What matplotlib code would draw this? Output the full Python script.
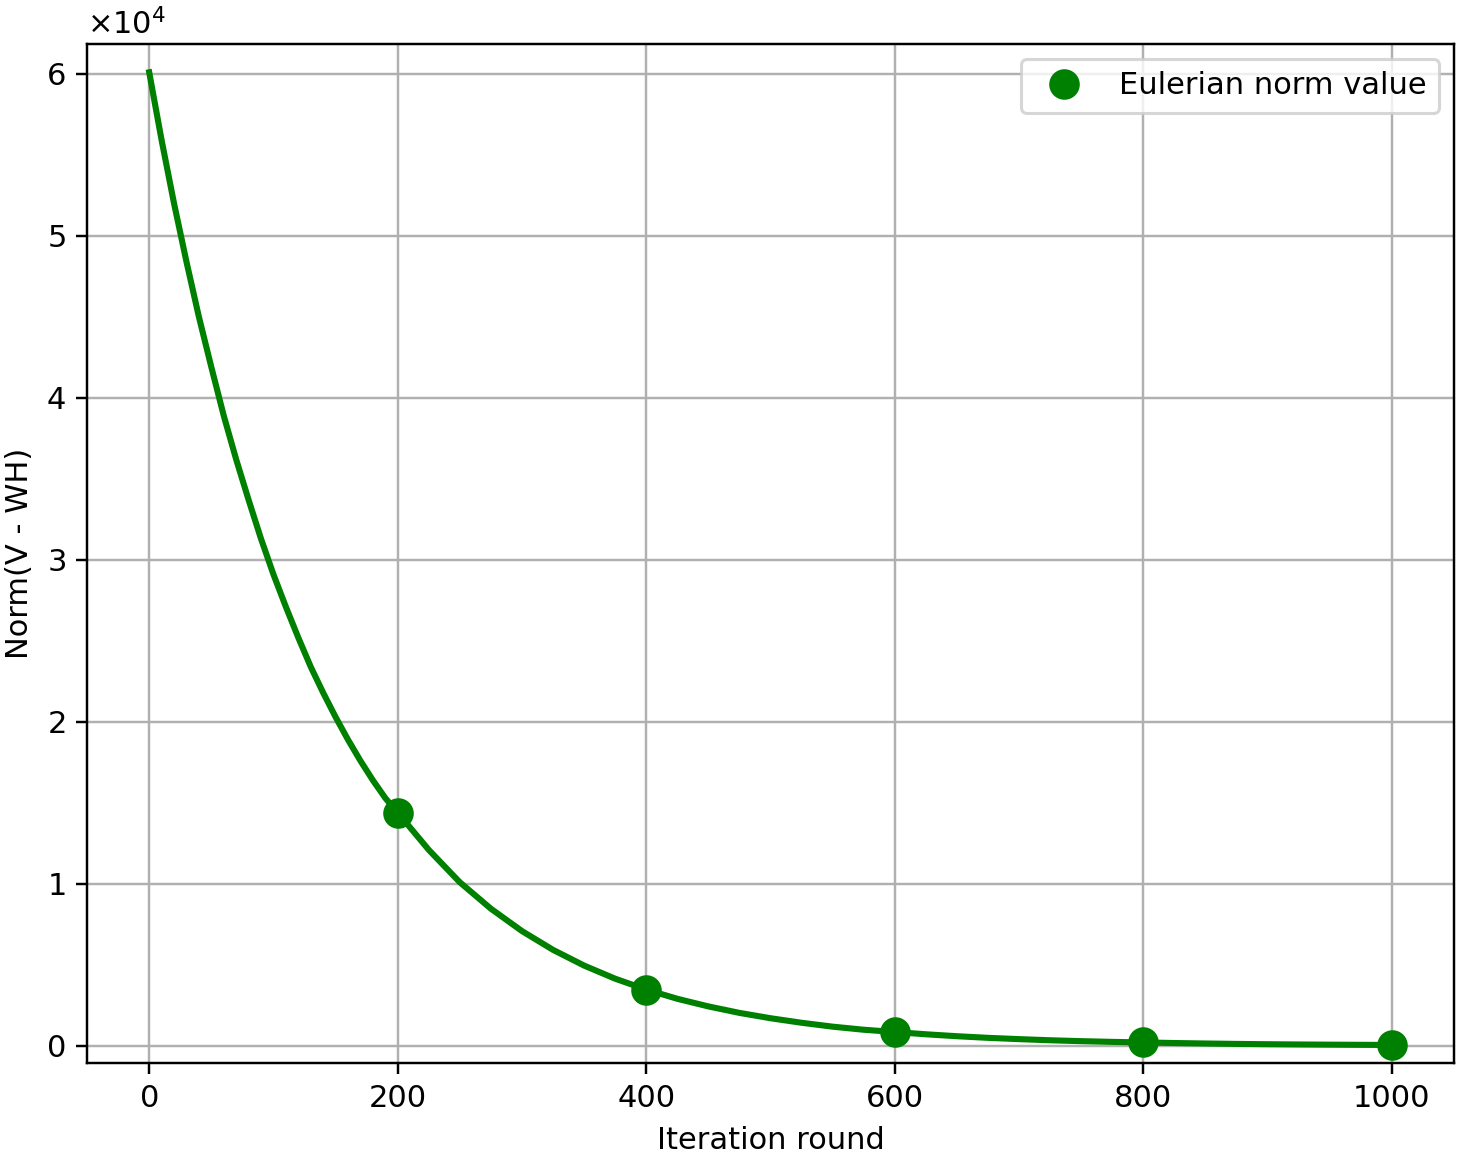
import numpy as np
import matplotlib.pyplot as plt

# curve values (every 10 rounds up to 200, then every 25)
iters = list(range(0, 200, 10)) + list(range(200, 1001, 25))
norm_curve = [60100, 55900, 52000, 48400, 45000, 41900, 38900, 36200, 33700,
              31300, 29100, 27100, 25200, 23400, 21800, 20300, 18900, 17600,
              16400, 15300,
              14400, 12100, 10100, 8470, 7090, 5930, 4960, 4150, 3480, 2910,
              2440, 2040, 1710, 1430, 1190, 1000, 860, 720, 600, 500, 420,
              350, 295, 250, 215, 180, 150, 125, 105, 90, 78, 68, 60]

# marked points
mark_iters = [200, 400, 600, 800, 1000]
mark_vals = [14400, 3460, 860, 230, 60]

fig = plt.figure(figsize=(1461 / 220, 1154 / 220), dpi=220)
ax = fig.add_axes([0.0596, 0.0789, 0.9356, 0.883])

ax.plot(iters, norm_curve, color="green", linewidth=2)
ax.plot(mark_iters, mark_vals, "o", color="green", markersize=9,
        label="Eulerian norm value")

ax.set_ylim(-1050, 61850)
ax.ticklabel_format(axis="y", style="sci", scilimits=(0, 0), useMathText=True)
ax.set_xlabel("Iteration round")
ax.set_ylabel("Norm(V - WH)")
ax.grid(True)
ax.legend(loc="upper right")

fig.savefig("out.png", dpi=220)
